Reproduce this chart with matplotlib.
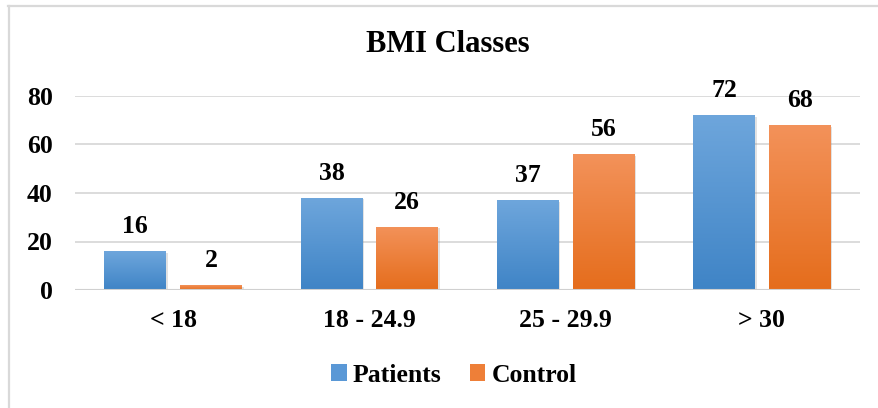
import matplotlib
matplotlib.use("Agg")
import matplotlib.pyplot as plt
import numpy as np
from matplotlib.patches import Rectangle
from matplotlib.colors import LinearSegmentedColormap
from matplotlib.lines import Line2D

categories = ["< 18", "18 - 24.9", "25 - 29.9", "> 30"]
patients = [16, 38, 37, 72]
control = [2, 26, 56, 68]
series_names = ["Patients", "Control"]
y_ticks = [0, 20, 40, 60, 80]

plt.rcParams["font.family"] = ["Liberation Serif", "DejaVu Serif"]
plt.rcParams["font.weight"] = "bold"

W, H = 879, 408
fig = plt.figure(figsize=(W / 100, H / 100), dpi=100)
fig.patch.set_facecolor("white")

# outer chart-area frame (top and left edges)
fig.add_artist(Line2D([8 / W, 1], [1 - 5.5 / H, 1 - 5.5 / H], color="#d9d9d9", lw=1.6))
fig.add_artist(Line2D([9 / W, 9 / W], [0, 1 - 5.5 / H], color="#d9d9d9", lw=1.6))

ax = fig.add_axes([75 / W, 118 / H, (860 - 75) / W, (290 - 96) / H])
ax.set_xlim(-0.5, len(categories) - 0.5)
ax.set_ylim(0, 80)

FS = 18.5

for s in ax.spines.values():
    s.set_visible(False)
ax.set_yticks(y_ticks)
ax.yaxis.grid(True, color="#d9d9d9", lw=1.3)
ax.set_axisbelow(True)
ax.tick_params(axis="both", length=0, labelsize=FS)
ax.tick_params(axis="y", pad=16)
ax.tick_params(axis="x", pad=14)
ax.set_xticks(range(len(categories)))
ax.set_xticklabels(categories, fontweight="bold")
for lab in ax.get_yticklabels():
    lab.set_fontweight("bold")

blue_cmap = LinearSegmentedColormap.from_list("b", ["#3f84c6", "#6ea6dc"])
orange_cmap = LinearSegmentedColormap.from_list("o", ["#e56d1c", "#f3925a"])

bw = 0.3155
off = 0.193
grad = np.linspace(0, 1, 256).reshape(-1, 1)


def gradient_bar(x, h, cmap):
    # soft drop shadow
    sh = Rectangle((x - bw / 2 + 0.008, -0.6), bw, h, facecolor="#7f7f7f",
                   alpha=0.22, edgecolor="none", zorder=2)
    ax.add_patch(sh)
    r = Rectangle((x - bw / 2, 0), bw, h, facecolor="none", edgecolor="none", zorder=3)
    ax.add_patch(r)
    im = ax.imshow(grad, cmap=cmap, origin="lower", aspect="auto",
                   extent=(x - bw / 2, x + bw / 2, 0, max(h, 0.01)), zorder=3)
    im.set_clip_path(r)
    ax.annotate(f"{h}", (x, h), xytext=(0, 13), textcoords="offset points",
                ha="center", va="baseline", fontsize=FS, fontweight="bold",
                annotation_clip=False)


for i, (p, c) in enumerate(zip(patients, control)):
    gradient_bar(i - off, p, blue_cmap)
    gradient_bar(i + off, c, orange_cmap)

ax.set_xlim(-0.5, len(categories) - 0.5)
ax.set_ylim(0, 80)
ax.axhline(0, color="#d0d0d0", lw=1.5, zorder=4)

fig.text(448 / W, 1 - 45 / H, "BMI Classes", ha="center", va="center",
         fontsize=22, fontweight="bold")

handles = [Rectangle((0, 0), 1, 1, facecolor="#5a98d6"),
           Rectangle((0, 0), 1, 1, facecolor="#ee7f38")]
fig.legend(handles, series_names, loc="center", bbox_to_anchor=(454 / W, 1 - 375 / H),
           ncol=2, frameon=False, handlelength=0.6, handleheight=0.6,
           handletextpad=0.25, columnspacing=1.1, prop={"weight": "bold", "size": 18.5})

fig.savefig("out.png", dpi=100, facecolor="white")
